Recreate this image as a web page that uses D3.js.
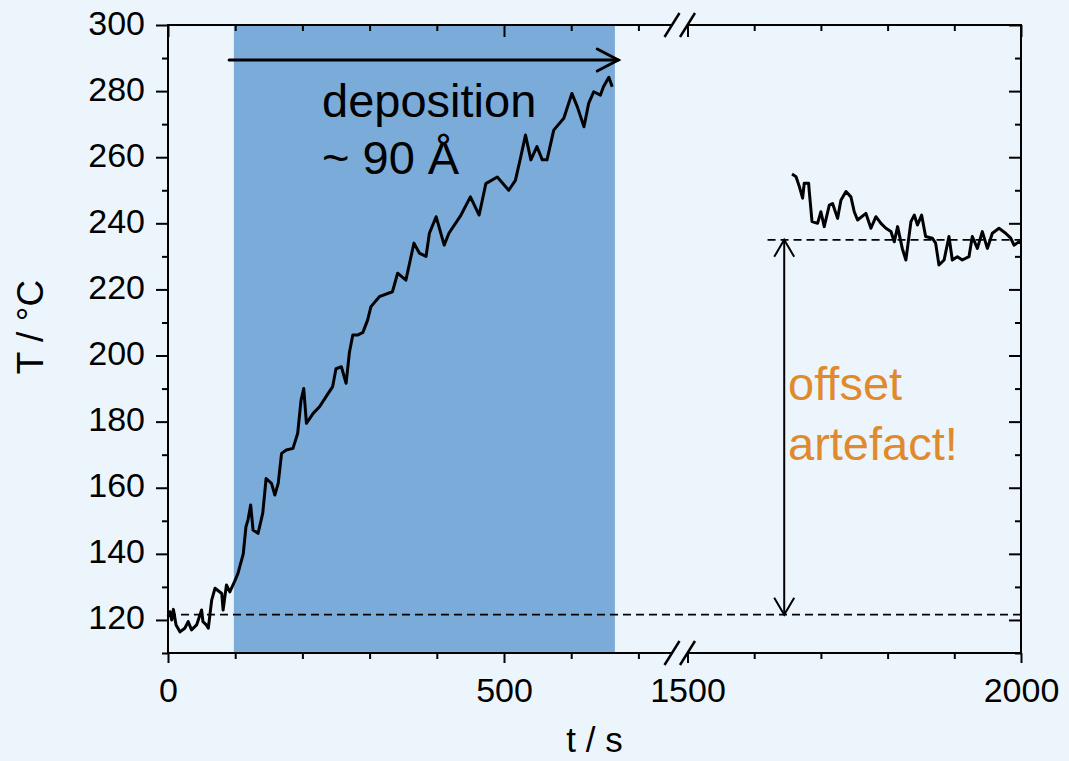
<!DOCTYPE html>
<html><head><meta charset="utf-8">
<script src="https://cdn.jsdelivr.net/npm/d3@7/dist/d3.min.js"></script>
<style>
html,body{margin:0;padding:0;background:#EDF5FC;}
svg{display:block;font-family:"Liberation Sans",Arial,Helvetica,sans-serif;}
</style>
</head><body>
<svg id="chart" width="1069" height="761"></svg>
<script>
// ---- data ----
const time1 = [0,3,5.5,8,12,17.8,25,30,35,42.6,50,52,57,60,65,70,80,82,87,92,99,104,112,116,119,123,126.6,134,141,146,154,159,164,169,176,186,193,198,202,206,216,225.5,235,245,250,258,265,270,275,282,290,297,302,314.5,334,341.7,354,366,374,384,389,399,411,418,436,450,463,473,490,507,517,525,532,540,549,557,564,574,589,601,609,619,626,633.5,643.5,648,656,661];
const temp1 = [121,122.5,120,123.2,118.5,116.4,117.5,119.5,117,118.5,123,119.5,118.5,117.5,126,129.6,128,123,130.6,128.5,131.6,134,140,148.2,150.2,154.8,147.2,146.2,152.3,162.8,161.3,157.8,161.3,170.4,171.4,171.9,176.5,186.5,190,179.5,182.5,184.5,187.5,190.6,196,196.6,191.6,201,206.2,206.2,207,210.7,214.8,217.8,219.3,224.9,222.8,234,231,230,237,242,233.4,237,242.5,248,242.5,252,254,250,253,260.2,266.7,259.2,263.2,259.2,259.2,268.2,271.8,279.3,275.3,269.2,276.3,279.8,278.8,281.3,284.2,281.3];
const time2 = [1656.7,1662.7,1667.7,1672.6,1675,1681.6,1682.6,1686.7,1695,1700,1705,1712.6,1717.5,1725,1730,1737.6,1745,1750,1755,1767.5,1775,1782.5,1790,1797.5,1805,1810,1815,1822,1827.4,1835,1840,1844.8,1851,1857,1867,1872,1877,1884.7,1892,1897,1904.6,1912,1922,1927,1934.6,1942,1949.6,1957,1967,1977,1984.6,1989.5,1997,2000];
const temp2 = [254.9,254.1,251.1,247.6,252.1,252.1,249.6,240.5,240,243.5,239,245.5,246,241.5,247,249.6,248,243.5,241,243,238.5,242,240,238.5,237.5,234.4,239,232.4,228.9,240.5,242.5,239.5,242.5,236,235.5,234,227.4,228.9,236,228.9,229.9,228.9,229.9,236,232.4,237.5,232.4,237,238.5,237,235.5,233.4,234.4,234];
const yMajorTicks = [120,140,160,180,200,220,240,260,280,300];
const yMinorTicks = [110,130,150,170,190,210,230,250,270,290];
const xMajorTicks1 = [0,500];
const xMinorTicks1 = [100,200,300,400,600,700];
const xMajorTicks2 = [1500,2000];
const xMinorTicks2 = [1600,1700,1800,1900];
const depositionRange = [98,665];
const baselineT = 121.6;
const offsetT = 235;
const arrowT = 289.4;
const arrowTimes = [91,670];
const offsetArrowTime = 1645;
const offsetLineStart = 1620;

// ---- layout ----
const svg = d3.select("#chart");
const L = 168, R = 1021, T = 25, B = 653;
const brk1 = 672, brk2 = 687.5;
const y = d3.scaleLinear().domain([110,300]).range([B,T]);
const x1 = d3.scaleLinear().domain([0,750]).range([L,brk1]);
const x2 = d3.scaleLinear().domain([1500,2000]).range([brk2,R]);
const FS = 34;

svg.append("rect").attr("width",1069).attr("height",761).attr("fill","#EDF5FC");

// deposition shading
svg.append("rect")
  .attr("x",x1(depositionRange[0])).attr("y",T)
  .attr("width",x1(depositionRange[1])-x1(depositionRange[0]))
  .attr("height",B-T).attr("fill","#7BABD8");

// axes helper
function ax(gen, scale, vals, size, tr, fmt){
  const g = svg.append("g").attr("transform",tr)
    .call(gen(scale).tickValues(vals).tickSize(size).tickFormat(fmt||""));
  g.select(".domain").remove();
  g.selectAll(".tick line").attr("stroke","#000").attr("stroke-width",2);
  return g;
}
// left
const gl = ax(d3.axisLeft, y, yMajorTicks, 12, `translate(${L},0)`, d3.format("d"));
gl.selectAll(".tick text").attr("x",-23).attr("dy",null).attr("y",9)
  .attr("font-size",FS).attr("font-family","Liberation Sans, Arial, sans-serif").attr("fill","#000");
ax(d3.axisLeft, y, yMinorTicks, 6, `translate(${L},0)`);
// right (inward)
ax(d3.axisLeft, y, yMajorTicks, 12, `translate(${R},0)`);
ax(d3.axisLeft, y, yMinorTicks, 6, `translate(${R},0)`);
// bottom / top
[[x1,xMajorTicks1,xMinorTicks1],[x2,xMajorTicks2,xMinorTicks2]].forEach(([sc,maj,min])=>{
  const gb = ax(d3.axisBottom, sc, maj, 10, `translate(0,${B})`, d3.format("d"));
  gb.selectAll(".tick text").attr("y",49).attr("dy",null)
    .attr("font-size",FS).attr("font-family","Liberation Sans, Arial, sans-serif").attr("fill","#000");
  ax(d3.axisBottom, sc, min, 6, `translate(0,${B})`);
  ax(d3.axisBottom, sc, maj, 12, `translate(0,${T})`);
  ax(d3.axisBottom, sc, min, 6, `translate(0,${T})`);
});

// frame
const frame = svg.append("g").attr("stroke","#000").attr("stroke-width",2).attr("fill","none");
frame.append("line").attr("x1",L).attr("x2",L).attr("y1",T-1).attr("y2",B+1);
frame.append("line").attr("x1",R).attr("x2",R).attr("y1",T-1).attr("y2",B+1);
[T,B].forEach(yy=>{
  frame.append("line").attr("x1",L).attr("x2",brk1).attr("y1",yy).attr("y2",yy);
  frame.append("line").attr("x1",brk2).attr("x2",R).attr("y1",yy).attr("y2",yy);
  [brk1,brk2].forEach(bx=>{
    frame.append("line").attr("x1",bx-7.5).attr("x2",bx+7.5)
      .attr("y1",yy+12).attr("y2",yy-12).attr("stroke-width",2.5);
  });
});

// dashed reference lines
svg.append("line").attr("x1",x1(0)).attr("x2",x2(2000))
  .attr("y1",y(baselineT)).attr("y2",y(baselineT))
  .attr("stroke","#000").attr("stroke-width",1.6).attr("stroke-dasharray","8,5");
svg.append("line").attr("x1",x2(offsetLineStart)).attr("x2",x2(2000))
  .attr("y1",y(offsetT)).attr("y2",y(offsetT))
  .attr("stroke","#000").attr("stroke-width",1.6).attr("stroke-dasharray","8,5");

// data lines
const line1 = d3.line().x((d,i)=>x1(time1[i])).y(d=>y(d));
const line2 = d3.line().x((d,i)=>x2(time2[i])).y(d=>y(d));
svg.append("path").attr("d",line1(temp1)).attr("fill","none")
  .attr("stroke","#000").attr("stroke-width",3).attr("stroke-linejoin","round");
svg.append("path").attr("d",line2(temp2)).attr("fill","none")
  .attr("stroke","#000").attr("stroke-width",3).attr("stroke-linejoin","round");

// horizontal deposition arrow
const ay = y(arrowT), ax0 = x1(arrowTimes[0]), ax1 = x1(arrowTimes[1]);
const arr = svg.append("g").attr("stroke","#000").attr("stroke-width",3).attr("fill","none")
  .attr("stroke-linecap","round");
arr.append("line").attr("x1",ax0).attr("x2",ax1).attr("y1",ay).attr("y2",ay);
arr.append("path").attr("d",`M${ax1-21},${ay-11} L${ax1},${ay} L${ax1-21},${ay+11}`);

// vertical double arrow
const vx = x2(offsetArrowTime), vy0 = y(offsetT), vy1 = y(baselineT);
const varr = svg.append("g").attr("stroke","#000").attr("stroke-width",2).attr("fill","none");
varr.append("line").attr("x1",vx).attr("x2",vx).attr("y1",vy0).attr("y2",vy1);
varr.append("path").attr("d",`M${vx-10},${vy0+17} L${vx},${vy0} L${vx+10},${vy0+17}`);
varr.append("path").attr("d",`M${vx-10},${vy1-17} L${vx},${vy1} L${vx+10},${vy1-17}`);

// annotation texts
const ann = svg.append("g").attr("font-size",47);
ann.append("text").attr("x",322).attr("y",117).text("deposition");
ann.append("text").attr("x",322).attr("y",174).text("~ 90 Å");
ann.append("text").attr("x",788).attr("y",400).attr("fill","#E08A2E").text("offset");
ann.append("text").attr("x",788).attr("y",460).attr("fill","#E08A2E").text("artefact!");

// axis titles
svg.append("text").attr("x",(L+R)/2).attr("y",752).attr("text-anchor","middle")
  .attr("font-size",35).text("t / s");
svg.append("text").attr("transform","translate(43,327) rotate(-90)").attr("text-anchor","middle")
  .attr("font-size",37).text("T / °C");
</script>
</body></html>
